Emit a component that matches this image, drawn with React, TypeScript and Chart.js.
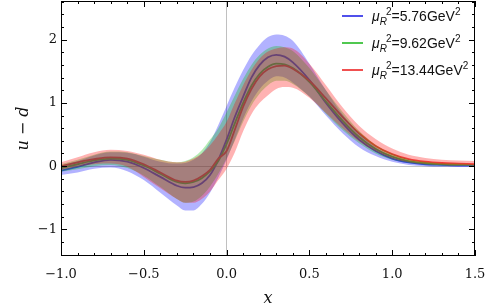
import React, { useEffect, useRef } from "react";
import { Chart, registerables } from "chart.js";

Chart.register(...registerables);

const xs = [-1.0, -0.9, -0.8, -0.7, -0.6, -0.5, -0.4, -0.3, -0.25, -0.2, -0.15, -0.1, -0.05, 0, 0.05, 0.1, 0.15, 0.2, 0.25, 0.3, 0.35, 0.4, 0.5, 0.6, 0.7, 0.8, 0.9, 1.0, 1.1, 1.2, 1.3, 1.4, 1.5];

const blueMid = [-0.07, -0.01, 0.06, 0.10, 0.07, -0.03, -0.17, -0.31, -0.34, -0.33, -0.27, -0.14, 0.10, 0.42, 0.78, 1.10, 1.40, 1.60, 1.72, 1.76, 1.73, 1.64, 1.36, 1.00, 0.68, 0.42, 0.24, 0.12, 0.06, 0.03, 0.02, 0.01, 0.01];
const blueLo = [-0.14, -0.10, -0.04, -0.02, -0.08, -0.22, -0.42, -0.62, -0.70, -0.70, -0.60, -0.42, -0.18, 0.10, 0.42, 0.75, 1.02, 1.22, 1.35, 1.42, 1.40, 1.32, 1.10, 0.80, 0.52, 0.30, 0.16, 0.07, 0.02, 0.0, -0.01, -0.01, 0.0];
const blueHi = [0.01, 0.08, 0.17, 0.22, 0.21, 0.15, 0.07, 0.04, 0.05, 0.10, 0.20, 0.38, 0.65, 0.95, 1.25, 1.52, 1.75, 1.92, 2.04, 2.08, 2.06, 1.98, 1.62, 1.20, 0.82, 0.52, 0.30, 0.16, 0.08, 0.04, 0.03, 0.02, 0.02];

const greenMid = [-0.03, 0.03, 0.09, 0.12, 0.10, 0.01, -0.12, -0.25, -0.27, -0.25, -0.19, -0.08, 0.08, 0.35, 0.68, 1.00, 1.27, 1.46, 1.57, 1.62, 1.61, 1.55, 1.33, 1.02, 0.72, 0.46, 0.27, 0.15, 0.08, 0.05, 0.03, 0.02, 0.02];
const greenLo = [-0.09, -0.05, 0.0, 0.02, -0.03, -0.15, -0.33, -0.52, -0.58, -0.56, -0.47, -0.32, -0.12, 0.12, 0.40, 0.70, 0.96, 1.15, 1.28, 1.35, 1.35, 1.30, 1.10, 0.83, 0.57, 0.36, 0.20, 0.10, 0.05, 0.02, 0.01, 0.01, 0.01];
const greenHi = [0.03, 0.10, 0.18, 0.23, 0.22, 0.16, 0.10, 0.06, 0.08, 0.14, 0.25, 0.42, 0.60, 0.85, 1.12, 1.38, 1.60, 1.76, 1.86, 1.90, 1.88, 1.82, 1.55, 1.20, 0.86, 0.56, 0.34, 0.20, 0.11, 0.07, 0.05, 0.04, 0.03];

const redMid = [0.0, 0.06, 0.11, 0.14, 0.12, 0.03, -0.10, -0.23, -0.25, -0.23, -0.16, -0.06, 0.12, 0.24, 0.58, 0.94, 1.22, 1.42, 1.53, 1.58, 1.59, 1.54, 1.35, 1.07, 0.78, 0.52, 0.32, 0.19, 0.11, 0.07, 0.05, 0.04, 0.03];
const redLo = [-0.06, -0.01, 0.03, 0.04, -0.01, -0.17, -0.35, -0.52, -0.58, -0.58, -0.52, -0.40, -0.22, -0.04, 0.22, 0.55, 0.82, 1.00, 1.12, 1.22, 1.25, 1.24, 1.08, 0.84, 0.60, 0.39, 0.23, 0.12, 0.06, 0.03, 0.02, 0.01, 0.01];
const redHi = [0.06, 0.14, 0.22, 0.26, 0.24, 0.18, 0.10, 0.06, 0.07, 0.12, 0.20, 0.33, 0.50, 0.70, 1.00, 1.28, 1.52, 1.70, 1.81, 1.86, 1.88, 1.86, 1.62, 1.28, 0.93, 0.64, 0.43, 0.28, 0.18, 0.13, 0.10, 0.09, 0.08];

const xTicks = [-1.0, -0.5, 0.0, 0.5, 1.0, 1.5];
const yTicks = [-1, 0, 1, 2];

const series = [
  { label: "5.76", mid: blueMid, lo: blueLo, hi: blueHi, line: "rgb(80,80,235)", band: "rgba(0,0,255,0.3)" },
  { label: "9.62", mid: greenMid, lo: greenLo, hi: greenHi, line: "rgb(80,200,80)", band: "rgba(0,190,0,0.3)" },
  { label: "13.44", mid: redMid, lo: redLo, hi: redHi, line: "rgb(240,80,80)", band: "rgba(255,0,0,0.3)" },
];

const pts = (ys: number[]) => xs.map((x, i) => ({ x, y: ys[i] }));
const fmtMinus = (s: string) => s.replace("-", "\u2212");

const framePlugin = {
  id: "frameTicks",
  afterDraw(chart: any) {
    const { ctx, chartArea: a, scales } = chart;
    const xs_ = scales.x;
    const ys_ = scales.y;
    ctx.save();
    ctx.strokeStyle = "#000";
    ctx.lineWidth = 1;
    ctx.strokeRect(a.left + 0.5, a.top + 0.5, a.right - a.left - 1, a.bottom - a.top - 1);
    ctx.beginPath();
    for (let k = -10; k <= 15; k++) {
      const v = k / 10;
      const px = Math.round(xs_.getPixelForValue(v)) + 0.5;
      const len = k % 5 === 0 ? 6 : 3;
      ctx.moveTo(px, a.bottom);
      ctx.lineTo(px, a.bottom - len);
      ctx.moveTo(px, a.top);
      ctx.lineTo(px, a.top + len);
    }
    for (let k = -7; k <= 13; k++) {
      const v = k / 5;
      const py = Math.round(ys_.getPixelForValue(v)) + 0.5;
      if (py < a.top || py > a.bottom) continue;
      const len = k % 5 === 0 ? 6 : 3;
      ctx.moveTo(a.left, py);
      ctx.lineTo(a.left + len, py);
      ctx.moveTo(a.right, py);
      ctx.lineTo(a.right - len, py);
    }
    ctx.stroke();
    ctx.restore();
  },
};

export default function App() {
  const ref = useRef<HTMLCanvasElement | null>(null);
  useEffect(() => {
    if (!ref.current) return;
    const datasets: any[] = [];
    // red first so it is painted last (on top)
    [series[2], series[1], series[0]].forEach((s) => {
      datasets.push({
        label: s.label + " lo",
        data: pts(s.lo),
        borderWidth: 0,
        pointRadius: 0,
        fill: false,
        cubicInterpolationMode: "monotone",
        order: 1,
      });
      datasets.push({
        label: s.label + " hi",
        data: pts(s.hi),
        borderWidth: 0,
        pointRadius: 0,
        backgroundColor: s.band,
        fill: "-1",
        cubicInterpolationMode: "monotone",
        order: 1,
      });
    });
    [series[2], series[1], series[0]].forEach((s) => {
      datasets.push({
        label: s.label,
        data: pts(s.mid),
        borderColor: s.line,
        borderWidth: 1.8,
        pointRadius: 0,
        fill: false,
        cubicInterpolationMode: "monotone",
        order: 10,
      });
    });
    const chart = new Chart(ref.current, {
      type: "line",
      data: { datasets },
      plugins: [framePlugin],
      options: {
        animation: false,
        responsive: false,
        maintainAspectRatio: false,
        layout: { padding: { left: 14, right: 23, top: 1, bottom: 0 } },
        plugins: { legend: { display: false }, tooltip: { enabled: false } },
        scales: {
          x: {
            type: "linear",
            min: -1.0,
            max: 1.5,
            afterBuildTicks: (sc: any) => {
              sc.ticks = xTicks.map((v) => ({ value: v }));
            },
            afterFit: (sc: any) => {
              sc.height = 52;
              sc.paddingLeft = 0;
              sc.paddingRight = 0;
            },
            grid: {
              drawTicks: false,
              color: (c: any) => (c.tick && c.tick.value === 0 ? "#c0c0c0" : "rgba(0,0,0,0)"),
              lineWidth: 1,
            },
            border: { display: false },
            ticks: {
              padding: 11,
              color: "#111",
              font: { family: "'DejaVu Serif', 'Liberation Serif', serif", size: 13 },
              maxRotation: 0,
              callback: (v: any) => fmtMinus(Number(v).toFixed(1)),
            },
            title: {
              display: true,
              text: "x",
              color: "#111",
              padding: { top: 4, bottom: 0 },
              font: { family: "'DejaVu Serif', 'Liberation Serif', serif", size: 16, style: "italic" },
            },
          },
          y: {
            type: "linear",
            min: -1.42,
            max: 2.61,
            afterBuildTicks: (sc: any) => {
              sc.ticks = yTicks.map((v) => ({ value: v }));
            },
            afterFit: (sc: any) => {
              sc.width = 47;
              sc.paddingTop = 0;
              sc.paddingBottom = 0;
            },
            grid: {
              drawTicks: false,
              color: (c: any) => (c.tick && c.tick.value === 0 ? "#c0c0c0" : "rgba(0,0,0,0)"),
              lineWidth: 1,
            },
            border: { display: false },
            ticks: {
              padding: 4,
              color: "#111",
              font: { family: "'DejaVu Serif', 'Liberation Serif', serif", size: 13 },
              callback: (v: any) => fmtMinus(String(v)),
            },
            title: {
              display: true,
              text: "u \u2212 d",
              color: "#111",
              padding: { top: 0, bottom: 4 },
              font: { family: "'DejaVu Serif', 'Liberation Serif', serif", size: 16, style: "italic" },
            },
          },
        },
      },
    });
    return () => chart.destroy();
  }, []);

  const legendRow = (s: any, top: number) => (
    <div key={s.label} style={{ position: "absolute", left: 342, top, display: "flex", alignItems: "center", height: 20 }}>
      <div style={{ width: 21, height: 2, background: s.line, marginRight: 9 }} />
      <span style={{ fontFamily: "'Liberation Sans', Arial, sans-serif", fontSize: 14, color: "#111", whiteSpace: "nowrap", lineHeight: "20px" }}>
        <i>μ</i>
        <sub style={{ fontSize: 10, fontStyle: "italic", lineHeight: 0 }}>R</sub>
        <sup style={{ fontSize: 10, marginLeft: -1, lineHeight: 0 }}>2</sup>={s.label}GeV<sup style={{ fontSize: 10, lineHeight: 0 }}>2</sup>
      </span>
    </div>
  );

  return (
    <div style={{ position: "fixed", left: 0, top: 0, width: 498, height: 308, background: "#fff" }}>
      <canvas ref={ref} width={498} height={308} style={{ width: 498, height: 308, display: "block" }} />
      {legendRow(series[0], 6)}
      {legendRow(series[1], 33)}
      {legendRow(series[2], 60)}
    </div>
  );
}
